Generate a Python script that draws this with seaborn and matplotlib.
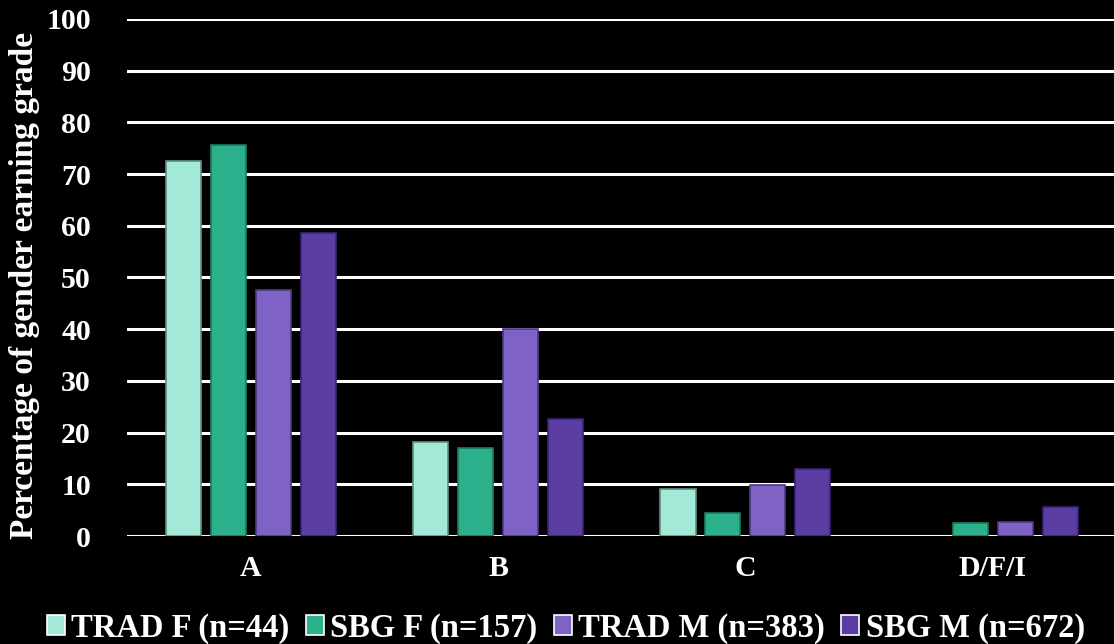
import matplotlib.pyplot as plt
import seaborn as sns
import pandas as pd

# grade categories and group labels
grades = ['A', 'B', 'C', 'D/F/I']
groups = ['TRAD F (n=44)', 'SBG F (n=157)', 'TRAD M (n=383)', 'SBG M (n=672)']

# percentage of each group earning each grade
trad_f = [72.6, 18.1, 9.0, 0.0]
sbg_f = [75.6, 17.1, 4.4, 2.6]
trad_m = [47.5, 40.0, 9.9, 2.8]
sbg_m = [58.6, 22.6, 12.9, 5.6]

colors = ['#A3E9D8', '#2BB08B', '#7E62C6', '#5A3CA3']
edges = ['#5E8F83', '#1C7A60', '#4D3A80', '#3A2670']

df = pd.DataFrame({
    'grade': grades * 4,
    'group': [g for g in groups for _ in grades],
    'pct': trad_f + sbg_f + trad_m + sbg_m,
})

sns.set_style('dark')
plt.rcParams['font.family'] = ['Liberation Serif', 'DejaVu Serif']
plt.rcParams['font.weight'] = 'bold'

fig = plt.figure(figsize=(11.14, 6.44), dpi=100, facecolor='black')
ax = fig.add_axes([0.114, 0.1677, 0.886, 0.803])
ax.set_facecolor('black')

sns.barplot(data=df, x='grade', y='pct', hue='group', order=grades,
            hue_order=groups, palette=colors, saturation=1, width=0.727,
            gap=0.22, linewidth=1.2, ax=ax, zorder=3)

# darker outlines per series, none on empty bars
for cont, ec in zip(ax.containers, edges):
    for bar in cont:
        bar.set_edgecolor(ec)
        if bar.get_height() == 0:
            bar.set_linewidth(0)

ax.set_ylim(0, 100)
ax.set_xlim(-0.5, 3.49)
ax.set_yticks(range(0, 101, 10))
ax.yaxis.grid(True, color='white', linewidth=2.2, zorder=0)
ax.xaxis.grid(False)
for s in ax.spines.values():
    s.set_visible(False)
ax.tick_params(axis='both', length=0, colors='white', labelsize=21.5)
ax.tick_params(axis='y', pad=26)
ax.tick_params(axis='x', pad=14)
for lab in ax.get_xticklabels() + ax.get_yticklabels():
    lab.set_fontweight('bold')

ax.set_xlabel('')
ax.set_ylabel('Percentage of gender earning grade', color='white',
              fontsize=24, fontweight='bold')
ax.yaxis.set_label_coords(-0.088, 0.485)

ax.legend_.remove()
handles, labels = ax.get_legend_handles_labels()
leg = fig.legend(handles, labels, loc='center', bbox_to_anchor=(0.508, 0.025),
                 ncol=4, frameon=False, fontsize=23.5, handlelength=0.55,
                 handleheight=0.55, handletextpad=0.2, columnspacing=0.5,
                 labelcolor='white')
for t in leg.get_texts():
    t.set_fontweight('bold')

fig.savefig('out.png', dpi=100, facecolor='black')
